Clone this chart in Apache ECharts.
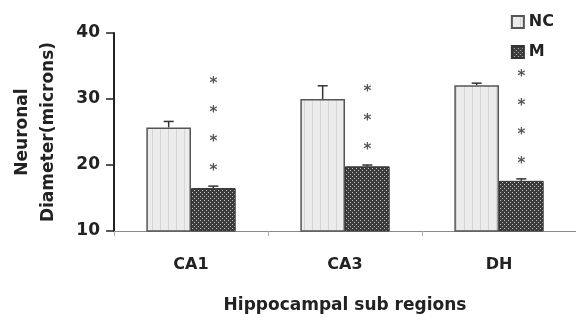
<!DOCTYPE html>
<html>
<head>
<meta charset="utf-8">
<script src="https://cdn.jsdelivr.net/npm/echarts@6/dist/echarts.min.js"></script>
<style>
html,body{margin:0;padding:0;background:#fff;}
#Chart{width:576px;height:320px;}
</style>
</head>
<body>
<div id="Chart"></div>
<script>
var regions=['CA1','CA3','DH']
var ncMean=[25.7,30.0,32.1]
var ncErr=[26.6,32.0,32.4]
var mMean=[16.5,19.8,17.6]
var mErr=[16.8,20.0,17.9]
var starCount=[4,3,4]
var yTicks=[10,20,30,40]

//填充图案
function makePattern(type){
	var c=document.createElement('canvas')
	var ctx=c.getContext('2d')
	if(type=='nc'){
		c.width=8;c.height=8
		ctx.fillStyle='#ececec'
		ctx.fillRect(0,0,8,8)
		ctx.fillStyle='#d6d6d6'
		ctx.fillRect(0,0,1,8)
	}else{
		c.width=4;c.height=4
		ctx.fillStyle='#3c3c3c'
		ctx.fillRect(0,0,4,4)
		ctx.fillStyle='#bdbdbd'
		ctx.fillRect(0,0,1,1)
		ctx.fillRect(2,2,1,1)
	}
	return {image:c,repeat:'repeat'}
}

//误差线
function errRender(side){
	return function(params,api){
		var ci=api.value(0)
		var bw=api.size([1,0])[0]*0.29
		var top=api.coord([ci,api.value(2)])
		var base=api.coord([ci,api.value(1)])
		var x=base[0]+side*bw/2
		var cap=5
		return {
			type:'group',
			children:[
				{type:'line',shape:{x1:x,y1:base[1],x2:x,y2:top[1]},style:{stroke:'#333',lineWidth:1.5}},
				{type:'line',shape:{x1:x-cap,y1:top[1],x2:x+cap,y2:top[1]},style:{stroke:'#333',lineWidth:1.5}}
			]
		}
	}
}

function $each(arr,fn){for(var i=0;i<arr.length;i++) fn(i,arr[i])}

function drawChar(){
	var myChart=echarts.init(document.getElementById('Chart'))
	var ncErrData=[],mErrData=[]
	$each(regions,function(i){
		ncErrData.push([i,ncMean[i],ncErr[i]])
		mErrData.push([i,mMean[i],mErr[i]])
	})
	var font='"DejaVu Sans", Verdana, sans-serif'
	option={
		animation:false,
		grid:{left:114,top:33,bottom:89,width:466},
		legend:{
			data:['NC','M'],
			orient:'vertical',
			right:17,
			top:9,
			icon:'rect',
			itemWidth:12,
			itemHeight:12,
			itemGap:14,
			textStyle:{fontFamily:font,fontWeight:'bold',fontSize:16,color:'#222'}
		},
		xAxis:{
			type:'category',
			data:regions,
			name:'Hippocampal sub regions',
			nameLocation:'middle',
			nameGap:66,
			nameTextStyle:{fontFamily:font,fontWeight:'bold',fontSize:17,color:'#222'},
			axisLine:{lineStyle:{color:'#888',width:1}},
			axisTick:{show:true,length:5,lineStyle:{color:'#aaa'}},
			axisLabel:{margin:26,fontFamily:font,fontWeight:'bold',fontSize:16,color:'#222'}
		},
		yAxis:{
			type:'value',
			min:10,max:40,interval:10,
			name:'Neuronal\nDiameter(microns)',
			nameLocation:'middle',
			nameGap:52,
			nameTextStyle:{fontFamily:font,fontWeight:'bold',fontSize:17,color:'#222',lineHeight:26},
			axisLine:{show:true,lineStyle:{color:'#222',width:2}},
			axisTick:{show:true,length:8,lineStyle:{color:'#222',width:1.5}},
			axisLabel:{margin:14,fontFamily:font,fontWeight:'bold',fontSize:17,color:'#222'},
			splitLine:{show:false}
		},
		series:[
			{
				name:'NC',type:'bar',data:ncMean,barWidth:'29%',barGap:'0%',
				itemStyle:{color:makePattern('nc'),borderColor:'#555',borderWidth:1.5}
			},
			{
				name:'M',type:'bar',data:mMean,barWidth:'29%',barGap:'0%',
				itemStyle:{color:makePattern('m'),borderColor:'#333',borderWidth:1},
				label:{
					show:true,position:'top',distance:2,
					fontFamily:font,fontWeight:'bold',fontSize:15,color:'#555',lineHeight:29,
					formatter:function(p){
						var s=[]
						for(var k=0;k<starCount[p.dataIndex];k++) s.push('*')
						return s.join('\n')
					}
				}
			},
			{type:'custom',renderItem:errRender(-1),data:ncErrData,encode:{x:0,y:[1,2]},z:3},
			{type:'custom',renderItem:errRender(1),data:mErrData,encode:{x:0,y:[1,2]},z:3}
		]
	}
	myChart.setOption(option)
}

drawChar()
</script>
</body>
</html>
